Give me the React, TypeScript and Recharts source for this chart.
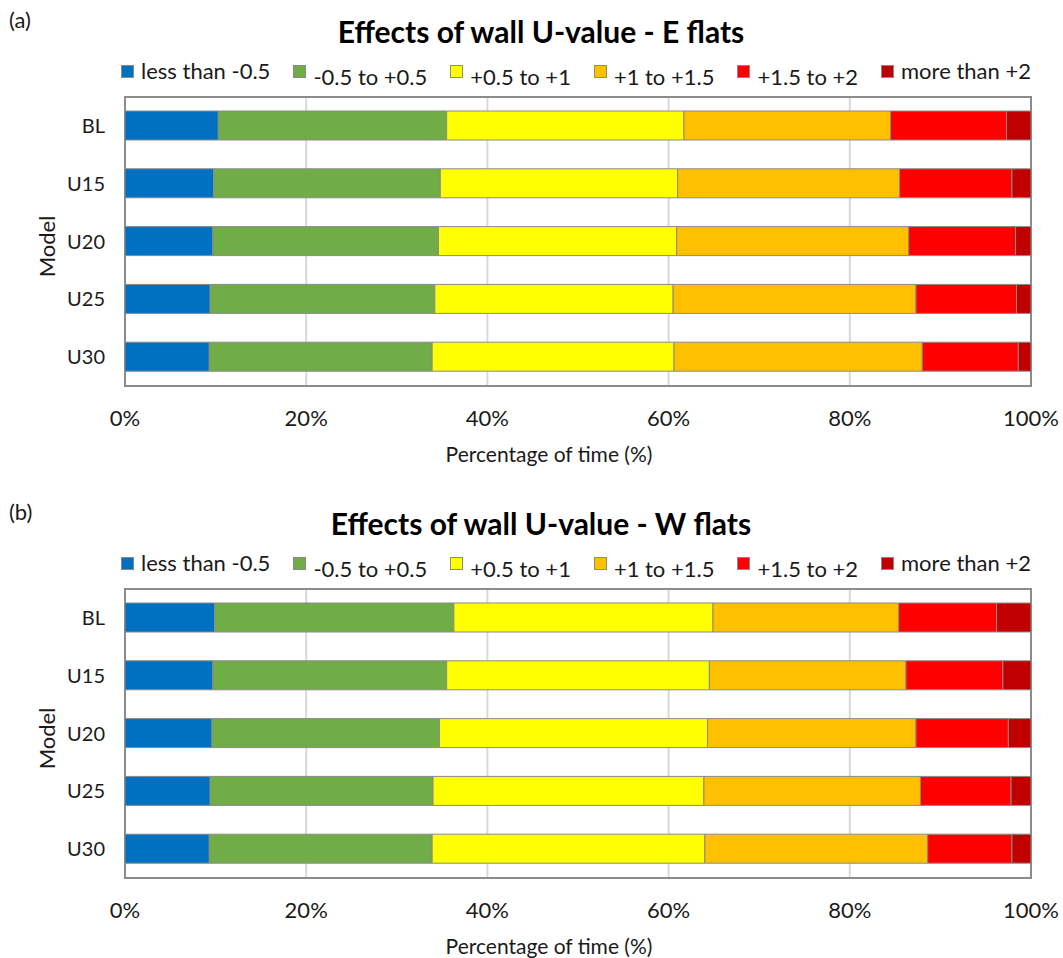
import React from 'react';
import { BarChart, Bar, XAxis, YAxis, CartesianGrid, Legend, ReferenceArea } from 'recharts';

// Model variants (rows) and temperature-difference bands (stacked segments)
const models = ['BL', 'U15', 'U20', 'U25', 'U30'];
const bandLabels = ['less than -0.5', '-0.5 to +0.5', '+0.5 to +1', '+1 to +1.5', '+1.5 to +2', 'more than +2'];
const bandColors = ['#0070C0', '#70AD47', '#FFFF00', '#FFC000', '#FF0000', '#C00000'];
const xTicks = [0, 20, 40, 60, 80, 100];

// (a) E flats: percentage of time in each band
const eLessThanM05 = [10.3, 9.8, 9.7, 9.4, 9.3];
const eM05ToP05 = [25.2, 25.0, 24.9, 24.8, 24.6];
const eP05ToP1 = [26.2, 26.2, 26.3, 26.3, 26.7];
const eP1ToP15 = [22.8, 24.5, 25.6, 26.8, 27.4];
const eP15ToP2 = [12.8, 12.4, 11.8, 11.1, 10.6];
const eMoreThanP2 = [2.7, 2.1, 1.7, 1.6, 1.4];

// (b) W flats: percentage of time in each band
const wLessThanM05 = [9.9, 9.7, 9.6, 9.4, 9.3];
const wM05ToP05 = [26.4, 25.8, 25.1, 24.6, 24.6];
const wP05ToP1 = [28.6, 29.0, 29.6, 29.9, 30.1];
const wP1ToP15 = [20.5, 21.7, 23.0, 23.9, 24.6];
const wP15ToP2 = [10.8, 10.7, 10.2, 10.0, 9.3];
const wMoreThanP2 = [3.8, 3.1, 2.5, 2.2, 2.1];

const bandKeys = ['b1', 'b2', 'b3', 'b4', 'b5', 'b6'];

function buildRows(series: number[][]) {
  return models.map((model, i) => {
    const row: Record<string, string | number> = { model };
    bandKeys.forEach((k, j) => {
      row[k] = series[j][i];
    });
    return row;
  });
}

const eRows = buildRows([eLessThanM05, eM05ToP05, eP05ToP1, eP1ToP15, eP15ToP2, eMoreThanP2]);
const wRows = buildRows([wLessThanM05, wM05ToP05, wP05ToP1, wP1ToP15, wP15ToP2, wMoreThanP2]);

const FONT = 'Lato, "Open Sans", sans-serif';
const TEXT = '#1a1a1a';
const W = 1063;
const PLOT_TOP = 97;
const PLOT_BOTTOM = 386;
const X_AXIS_H = 30;

const renderLegend = () => (
  <div style={{ display: 'flex', alignItems: 'flex-start', paddingLeft: 121, gap: 23, fontFamily: FONT }}>
    {bandLabels.map((label, i) => {
      const raised = i === 0 || i === bandLabels.length - 1;
      return (
        <div key={label} style={{ display: 'flex', alignItems: 'flex-start' }}>
          <span
            style={{
              display: 'inline-block',
              width: 11,
              height: 11,
              marginTop: 5,
              marginRight: 7,
              background: bandColors[i],
              border: '1px solid #8a8a8a',
            }}
          />
          <span
            style={{
              fontSize: 22,
              lineHeight: '22px',
              color: TEXT,
              whiteSpace: 'nowrap',
              marginTop: raised ? 0 : 6,
            }}
          >
            {label}
          </span>
        </div>
      );
    })}
  </div>
);

type PanelProps = {
  tag: string;
  title: string;
  rows: Record<string, string | number>[];
  top: number;
  height: number;
};

function Panel({ tag, title, rows, top, height }: PanelProps) {
  return (
    <div style={{ position: 'absolute', left: 0, top, width: W, height }}>
      <div
        style={{
          position: 'absolute',
          left: 9,
          top: 9,
          fontFamily: FONT,
          fontSize: 22,
          lineHeight: '22px',
          color: TEXT,
        }}
      >
        {tag}
      </div>
      <div
        style={{
          position: 'absolute',
          left: 541,
          top: 16,
          transform: 'translateX(-50%)',
          whiteSpace: 'nowrap',
          fontFamily: FONT,
          fontWeight: 700,
          fontSize: 30,
          lineHeight: '30px',
          color: '#000',
        }}
      >
        {title}
      </div>
      <BarChart
        width={W}
        height={height}
        data={rows}
        layout="vertical"
        barSize={29}
        margin={{ top: PLOT_TOP, right: 32, bottom: height - PLOT_BOTTOM - X_AXIS_H, left: 0 }}
        style={{ position: 'absolute', left: 0, top: 0 }}
      >
        <CartesianGrid horizontal={false} stroke="#d9d9d9" strokeWidth={2} />
        <XAxis
          type="number"
          domain={[0, 100]}
          ticks={xTicks}
          tickFormatter={(v: number) => `${v}%`}
          axisLine={false}
          tickLine={false}
          tickSize={0}
          tickMargin={24}
          height={X_AXIS_H}
          tick={{ fontSize: 22, fill: TEXT, fontFamily: FONT }}
          label={{
            content: (p: any) => {
              const vb = p.viewBox || {};
              return (
                <text
                  x={vb.x + vb.width / 2 - 29}
                  y={462}
                  textAnchor="middle"
                  fontSize={21}
                  fontFamily={FONT}
                  fill={TEXT}
                >
                  Percentage of time (%)
                </text>
              );
            },
          }}
        />
        <YAxis
          type="category"
          dataKey="model"
          width={125}
          axisLine={false}
          tickLine={false}
          tickSize={0}
          tickMargin={20}
          tick={{ fontSize: 20, fill: TEXT, fontFamily: FONT }}
          label={{
            content: (p: any) => {
              const vb = p.viewBox || {};
              const cy = vb.y + vb.height / 2 + 5;
              return (
                <text
                  x={46}
                  y={cy}
                  transform={`rotate(-90, 46, ${cy})`}
                  textAnchor="middle"
                  dominantBaseline="central"
                  fontSize={22}
                  fontFamily={FONT}
                  fill={TEXT}
                >
                  Model
                </text>
              );
            },
          }}
        />
        <Legend
          content={renderLegend}
          layout="horizontal"
          verticalAlign="middle"
          align="center"
          wrapperStyle={{ top: 60, left: 0, width: W }}
        />
        {bandKeys.map((k, i) => (
          <Bar
            key={k}
            dataKey={k}
            name={bandLabels[i]}
            stackId="bands"
            fill={bandColors[i]}
            stroke="#8a8a8a"
            strokeWidth={1}
            isAnimationActive={false}
          />
        ))}
        <ReferenceArea x1={0} x2={100} fill="none" fillOpacity={0} stroke="#8c8c8c" strokeWidth={2} />
      </BarChart>
    </div>
  );
}

export default function App() {
  return (
    <div style={{ position: 'absolute', left: 0, top: 0, width: W, height: 958, background: '#fff', fontFamily: FONT }}>
      <Panel tag="(a)" title="Effects of wall U-value - E flats" rows={eRows} top={0} height={492} />
      <Panel tag="(b)" title="Effects of wall U-value - W flats" rows={wRows} top={492} height={466} />
    </div>
  );
}
